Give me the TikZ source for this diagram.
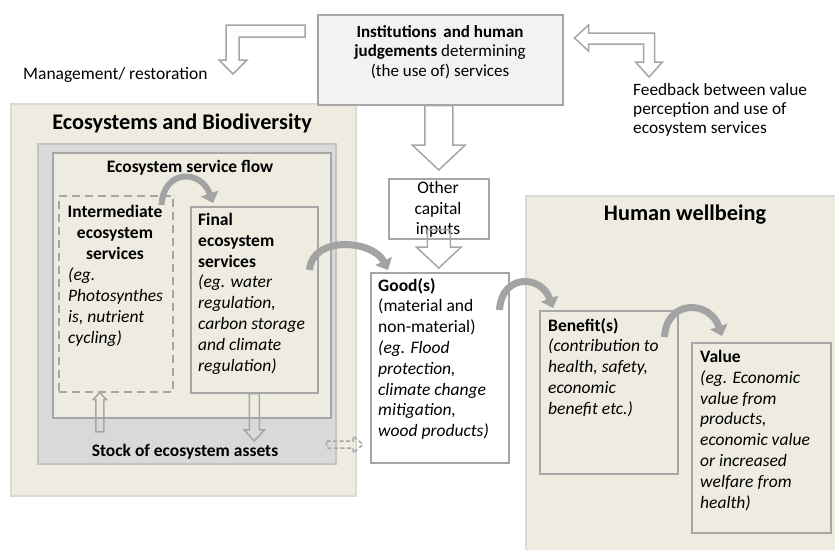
\documentclass[tikz,border=0pt]{standalone}
\usepackage{fontspec}
\setmainfont{Carlito}
\usetikzlibrary{calc,arrows.meta}
\definecolor{ecobeige}{HTML}{EEECE1}
\definecolor{stockgray}{HTML}{D9D9D9}
\definecolor{stockline}{HTML}{C4C4C4}
\definecolor{panelline}{HTML}{DADADA}
\definecolor{boxline}{HTML}{A6A6A6}
\definecolor{instfill}{HTML}{F2F2F2}
\definecolor{bendgray}{HTML}{A3A3A3}
\newcommand{\bodyfont}{\fontsize{17.5}{20.8}\selectfont}
\newcommand{\headfont}{\fontsize{22.3}{26}\selectfont\bfseries}
\newcommand{\subheadfont}{\fontsize{17.5}{20}\selectfont\bfseries}
\newcommand{\blockarrow}[6][]{%
  \coordinate (ba-h) at ($(#3)!#6!(#2)$);
  \draw[blockline,#1] ($(#2)!#4!90:(#3)$) -- ($(ba-h)!#4!90:(#3)$)
    -- ($(ba-h)!#5!90:(#3)$) -- (#3) -- ($(ba-h)!#5!-90:(#3)$)
    -- ($(ba-h)!#4!-90:(#3)$) -- ($(#2)!#4!-90:(#3)$) -- cycle;}

\begin{document}
\begin{tikzpicture}[x=1pt,y=-1pt,
  panel/.style={draw=panelline,line width=1.5pt,fill=ecobeige,anchor=north west,inner sep=0pt},
  box/.style={draw=boxline,line width=1.5pt,fill=ecobeige,anchor=north west,inner sep=0pt},
  txt/.style={font=\bodyfont,align=left,anchor=north west,inner sep=0pt},
  blockline/.style={draw=boxline,line width=1.5pt,line join=miter},
  bendarrow/.style={draw=bendgray,line width=7pt,-{Triangle[width=18pt,length=10pt]}}]
  \useasboundingbox (0,0) rectangle (835,549);
  \clip (0,0) rectangle (835,549);

  \node[panel,minimum width=345pt,minimum height=392pt] (eco) at (10,103) {};
  \node[panel,minimum width=330pt,minimum height=370pt] (human) at (525,195) {};
  \node[font=\headfont] (ecotitle) at (182,123) {Ecosystems and Biodiversity};
  \node[font=\headfont] (humantitle) at (685,215) {Human wellbeing};

  \node[box,draw=stockline,fill=stockgray,minimum width=298pt,minimum height=320pt] (stock) at (37,143) {};
  \node[box,line width=2.2pt,minimum width=278pt,minimum height=265pt] (flow) at (52,152) {};
  \node[font=\subheadfont] (flowtitle) at (190,168) {Ecosystem service flow};
  \node[font=\subheadfont] (stocktitle) at (185,452) {Stock of ecosystem assets};
  \node[box,dash pattern=on 8pt off 5pt,minimum width=114pt,minimum height=196pt] (inter) at (58,195) {};
  \node[box,minimum width=127pt,minimum height=186pt] (final) at (190,206) {};
  \node[txt,font=\bodyfont\bfseries,align=center,anchor=north] (intertitle) at (115,205) {Intermediate\\ecosystem\\services};
  \node[txt,font=\bodyfont\itshape] (interbody) at (68,268) {(eg.\\Photosynthes\\is, nutrient\\cycling)};
  \node[txt] (finaltext) at (198,213) {\textbf{Final}\\\textbf{ecosystem}\\\textbf{services}\\\textit{(eg. water}\\\textit{regulation,}\\\textit{carbon storage}\\\textit{and climate}\\\textit{regulation)}};

  \node[box,fill=white,minimum width=138pt,minimum height=190pt] (goods) at (370,272) {};
  \node[txt] (goodstext) at (378,278) {\textbf{Good(s)}\\(material and\\non-material)\\\textit{(eg. Flood}\\\textit{protection,}\\\textit{climate change}\\\textit{mitigation,}\\\textit{wood products)}};
  \node[box,fill=white,minimum width=100pt,minimum height=60pt] (other) at (388,178) {};
  \node[txt,align=center,anchor=north] (othertext) at (438,181) {Other\\capital\\inputs};
  \node[box,minimum width=138pt,minimum height=163pt] (benefit) at (539,310) {};
  \node[txt] (benefittext) at (548,318) {\textbf{Benefit(s)}\\\textit{(contribution to}\\\textit{health, safety,}\\\textit{economic}\\\textit{benefit etc.)}};
  \node[box,minimum width=139pt,minimum height=190pt] (value) at (691,342) {};
  \node[txt] (valuetext) at (700,350) {\textbf{Value}\\\textit{(eg. Economic}\\\textit{value from}\\\textit{products,}\\\textit{economic value}\\\textit{or increased}\\\textit{welfare from}\\\textit{health)}};

  \node[box,fill=instfill,minimum width=245pt,minimum height=90pt] (inst) at (317,14) {};
  \node[txt,font=\fontsize{17}{19.5}\selectfont,align=center,anchor=north] (insttext) at (440,25) {\textbf{Institutions\,\ and human}\\\textbf{judgements} determining\\(the use of) services};
  \node[txt,anchor=west] (mgmttext) at (23,75) {Management/ restoration};
  \node[txt,font=\fontsize{17.3}{19.2}\selectfont] (feedbacktext) at (633,83) {Feedback between value\\perception and use of\\ecosystem services};

  \coordinate (i1) at (inst.south -| other.north);
  \coordinate (i2) at ($(other.north)+(0,-8)$);
  \blockarrow{i1}{i2}{14pt}{26.5pt}{25pt}
  \coordinate (o1) at ($(other.south)+(0,-10)$);
  \coordinate (o2) at ($(other.south |- goods.north)+(0,-4)$);
  \blockarrow{o1}{o2}{11.5pt}{22.5pt}{21pt}
  \coordinate (f2) at (final.south |- stocktitle.north);
  \blockarrow{final.south}{f2}{5pt}{10pt}{11pt}
  \coordinate (s2) at ($(inter.south)+(-16,0)$);
  \coordinate (s1) at ($(s2 |- stocktitle.north)+(0,-9)$);
  \blockarrow{s1}{s2}{4pt}{6.5pt}{7pt}
  \coordinate (d1) at ($(stock.south east)+(-10,-20)$);
  \coordinate (d2) at ($(goods.west |- d1)+(-7,0)$);
  \blockarrow[dash pattern=on 4pt off 2.5pt]{d1}{d2}{3.5pt}{8.5pt}{10pt}

  \draw[blockline] ($(inst.north west)+(-12,11)$) -- ++(-79,0) -- ++(0,35) -- ++(-7,0) -- ++(14,14) -- ++(14,-14) -- ++(-8,0) -- ++(0,-23) -- ++(66,0) -- cycle;
  \draw[blockline] ($(inst.north east)+(11,24)$) -- ++(14,-13) -- ++(0,8) -- ++(66,0) -- ++(0,29) -- ++(8,0) -- ++(-13.5,15) -- ++(-13.5,-15) -- ++(8,0) -- ++(0,-18) -- ++(-55,0) -- ++(0,7) -- cycle;

  \draw[bendarrow,line width=6pt] ($(inter.north east)+(-12,10)$) .. controls +(2,-36) and +(-12,-34) .. ($(final.north west)+(23,-3)$);
  \draw[bendarrow] ($(final.north east)+(-9,64)$) .. controls +(3,-35) and +(-15,-30) .. ($(goods.north west)+(18,-2)$);
  \draw[bendarrow] ($(goods.north east)+(-10,38)$) .. controls +(2,-36) and +(-12,-34) .. ($(benefit.north west)+(14,-2)$);
  \draw[bendarrow] ($(benefit.north east)+(-14,27)$) .. controls +(2,-38) and +(-12,-36) .. ($(value.north west)+(31,-6)$);
\end{tikzpicture}
\end{document}
